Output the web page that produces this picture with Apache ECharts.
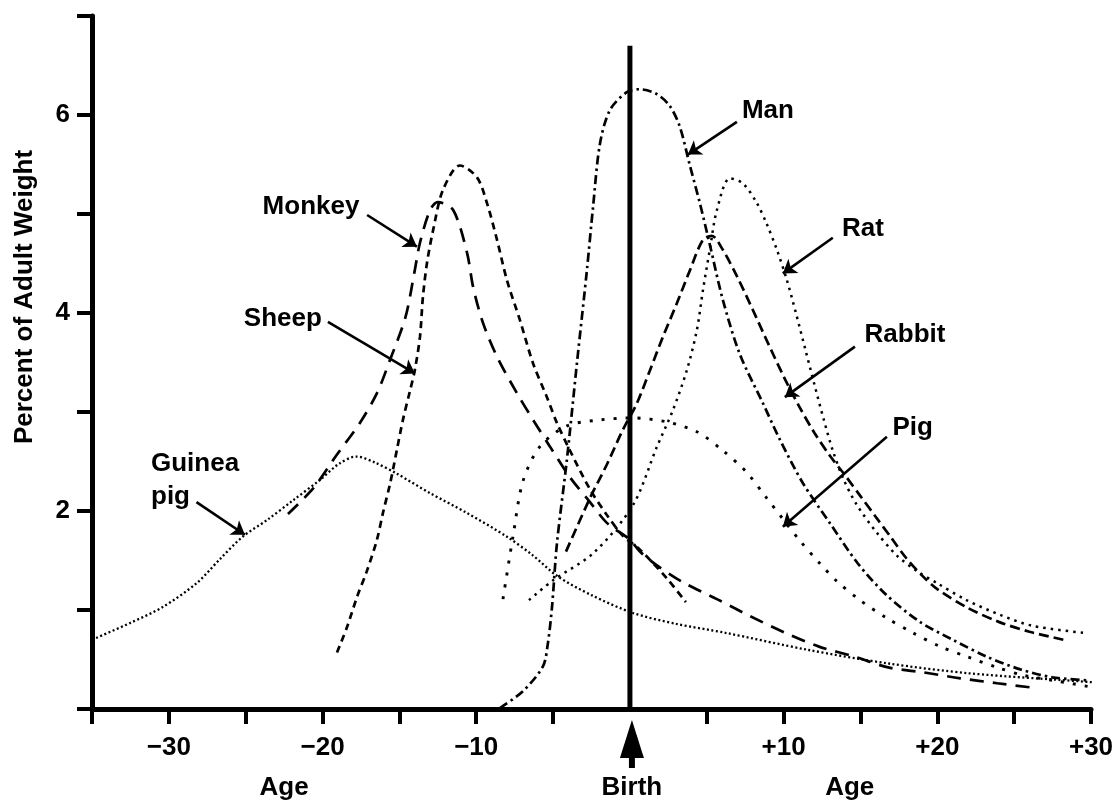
<!DOCTYPE html>
<html>
<head>
<meta charset="utf-8">
<script src="https://cdn.jsdelivr.net/npm/echarts@6/dist/echarts.min.js"></script>
<style>
  html, body { margin: 0; padding: 0; background: #fff; }
  #chart { width: 1120px; height: 803px; }
</style>
</head>
<body>
<div id="chart"></div>
<script>
// Brain growth spurts: first-order velocity of brain weight gain,
// as percent of adult weight, against age around birth.

const FONT = '"Liberation Sans", Arial, Helvetica, sans-serif';

// Axis ticks and labels
const xTicks = [-35, -30, -25, -20, -15, -10, -5, 5, 10, 15, 20, 25, 30];
const xTickLabels = [-30, -20, -10, 10, 20, 30];
const yTickLabels = [2, 4, 6];
const birthLine = [[0, 0], [0, 6.7]];
const ageLabelAt = [-22.5, 14.3];

// Species curves: [age, percent of adult weight]
const guineaPig = [[-35, 0.70], [-32.5, 0.87], [-30.4, 1.03], [-28.2, 1.27], [-26.7, 1.51], [-25.2, 1.74],
  [-23.6, 1.91], [-21.9, 2.11], [-20.2, 2.31], [-18.9, 2.48], [-17.8, 2.55], [-16.6, 2.49], [-15.2, 2.38],
  [-13.0, 2.18], [-10.6, 1.98], [-8.0, 1.74], [-6.3, 1.55], [-4.7, 1.34], [-2.5, 1.15], [0.2, 0.97],
  [3.0, 0.86], [6.2, 0.77], [11.5, 0.60], [16.8, 0.46], [22.1, 0.36], [30.1, 0.27], [31.3, 0.25]];

const monkey = [[-22.25, 1.97], [-20.6, 2.23], [-19.06, 2.57], [-17.57, 2.89], [-16.46, 3.19], [-15.6, 3.53],
  [-14.6, 3.96], [-14.0, 4.43], [-13.66, 4.71], [-13.0, 5.04], [-12.5, 5.12], [-11.5, 5.04], [-10.6, 4.61],
  [-10.2, 4.26], [-9.56, 3.90], [-8.65, 3.56], [-7.35, 3.19], [-6.3, 2.92], [-5.2, 2.65], [-3.9, 2.34],
  [-2.6, 2.09], [-1.5, 1.88], [0, 1.71], [0.65, 1.59], [1.76, 1.45], [3.45, 1.28], [5.66, 1.11], [7.8, 0.94],
  [10.1, 0.77], [12.3, 0.63], [14.6, 0.53], [16.8, 0.42], [19.1, 0.37], [21.5, 0.31], [23.9, 0.26], [26.5, 0.21]];

const sheep = [[-19.06, 0.57], [-18.4, 0.83], [-17.76, 1.13], [-17.1, 1.40], [-16.46, 1.71], [-16.07, 1.98],
  [-15.6, 2.28], [-15.16, 2.62], [-14.77, 2.92], [-14.3, 3.22], [-14.0, 3.42], [-13.66, 3.76], [-13.47, 4.16],
  [-13.2, 4.51], [-12.8, 4.84], [-12.17, 5.24], [-11.06, 5.49], [-9.95, 5.37], [-9.3, 5.11], [-8.65, 4.74],
  [-8.0, 4.33], [-7.16, 3.93], [-6.3, 3.49], [-5.4, 3.15], [-4.75, 2.89], [-3.9, 2.61], [-2.6, 2.22],
  [-1.5, 1.96], [-0.46, 1.75], [0.65, 1.61], [2.4, 1.32], [3.64, 1.08]];

const man = [[-8.46, 0.01], [-6.96, 0.18], [-5.66, 0.43], [-5.35, 0.65], [-5.07, 1.03], [-4.75, 1.67],
  [-4.1, 2.52], [-3.45, 3.49], [-2.8, 4.43], [-2.4, 5.07], [-1.95, 5.71], [-1.3, 6.05], [-0.2, 6.23],
  [0.65, 6.26], [1.76, 6.21], [2.6, 6.09], [3.25, 5.88], [3.9, 5.49], [4.55, 5.11], [5.2, 4.69], [6.05, 4.13],
  [7.16, 3.58], [8.65, 3.09], [9.76, 2.72], [11.26, 2.28], [13.0, 1.88], [14.83, 1.47], [16.7, 1.15],
  [18.87, 0.88], [21.0, 0.70], [23.2, 0.53], [25.4, 0.40], [27.5, 0.32], [29.7, 0.29]];

const rabbit = [[-4.16, 1.59], [-2.6, 2.13], [-1.5, 2.47], [-0.46, 2.82], [0.46, 3.09], [1.3, 3.42],
  [2.15, 3.76], [3.06, 4.10], [3.9, 4.43], [4.75, 4.74], [5.33, 4.78], [6.0, 4.65], [7.0, 4.36], [8.0, 4.03],
  [9.0, 3.69], [10.0, 3.36], [11.0, 3.06], [12.0, 2.79], [13.0, 2.56], [14.0, 2.36], [15.0, 2.15],
  [16.0, 1.94], [17.0, 1.73], [18.0, 1.52], [19.0, 1.35], [20.0, 1.21], [22.0, 1.02], [24.0, 0.88],
  [26.0, 0.78], [28.2, 0.70]];

const rat = [[-6.57, 1.10], [-5.0, 1.30], [-2.34, 1.58], [0.2, 2.06], [1.76, 2.65], [2.8, 3.02], [3.7, 3.42],
  [4.36, 3.83], [4.75, 4.23], [5.2, 4.64], [5.66, 5.04], [6.5, 5.36], [7.35, 5.31], [8.26, 5.11], [8.9, 4.90],
  [9.56, 4.64], [10.2, 4.34], [10.8, 4.00], [11.4, 3.64], [12.0, 3.28], [12.6, 2.93], [13.2, 2.61],
  [13.9, 2.32], [14.77, 2.06], [16.07, 1.78], [17.37, 1.55], [18.7, 1.39], [20.0, 1.27], [21.9, 1.10],
  [24.1, 0.95], [26.2, 0.84], [29.5, 0.77]];

const pig = [[-8.26, 1.11], [-7.6, 1.75], [-6.96, 2.30], [-5.86, 2.65], [-4.1, 2.86], [-1.95, 2.92],
  [0.2, 2.94], [2.4, 2.90], [4.36, 2.80], [6.05, 2.61], [7.6, 2.39], [8.9, 2.13], [9.95, 1.92], [11.06, 1.70],
  [12.36, 1.47], [13.47, 1.29], [14.96, 1.10], [16.7, 0.92], [18.4, 0.77], [20.2, 0.63], [21.9, 0.53],
  [23.9, 0.42], [25.6, 0.34], [27.5, 0.29], [30.1, 0.22]];

// Callouts: label anchor and arrow (tail -> head), in axis units
const callouts = [
  { text: 'Man',          at: [8.98, 6.04],   align: 'center', tail: [6.96, 5.93],   head: [3.77, 5.60] },
  { text: 'Monkey',       at: [-20.75, 5.07], align: 'center', tail: [-17.1, 4.99],  head: [-13.86, 4.67] },
  { text: 'Sheep',        at: [-22.58, 3.94], align: 'center', tail: [-19.65, 3.91], head: [-13.99, 3.39] },
  { text: 'Guinea\npig',  at: [-31.16, 2.31], align: 'left',   tail: [-28.2, 2.09],  head: [-25.05, 1.76] },
  { text: 'Rat',          at: [15.16, 4.85],  align: 'center', tail: [13.2, 4.76],   head: [9.95, 4.40] },
  { text: 'Rabbit',       at: [17.9, 3.78],   align: 'center', tail: [14.64, 3.66],  head: [10.08, 3.15] },
  { text: 'Pig',          at: [18.4, 2.84],   align: 'center', tail: [16.72, 2.75],  head: [9.95, 1.84] }
];

function curve(name, data, dash, width) {
  return {
    name, type: 'line', data, smooth: 0.3, symbol: 'none', clip: false, silent: true,
    lineStyle: { color: '#000', width, type: dash, cap: 'butt' }
  };
}

const series = [
  curve('Guinea pig', guineaPig, [2, 2.5], 2.3),
  curve('Monkey', monkey, [14, 9], 2.7),
  curve('Sheep', sheep, [7, 5], 2.7),
  curve('Man', man, [9, 4, 2.5, 4], 2.7),
  curve('Rabbit', rabbit, [10, 5], 2.7),
  curve('Rat', rat, [2.5, 5], 2.5),
  curve('Pig', pig, [3, 9], 2.9),
  {
    name: 'Birth', type: 'line', data: birthLine, symbol: 'none', silent: true,
    lineStyle: { color: '#000', width: 5, type: 'solid' }
  },
  {
    name: 'callouts', type: 'line', data: [], symbol: 'none', silent: true,
    markLine: {
      silent: true, symbol: ['none', 'arrow'], symbolSize: 13,
      label: { show: false },
      lineStyle: { color: '#000', width: 2.6, type: 'solid' },
      data: callouts.map(c => [{ coord: c.tail }, { coord: c.head }])
    }
  }
];

const chart = echarts.init(document.getElementById('chart'), null, { renderer: 'canvas' });

chart.setOption({
  animation: false,
  backgroundColor: '#fff',
  grid: { left: 92, right: 29, top: 16, bottom: 94, outerBoundsMode: 'none' },
  xAxis: {
    type: 'value', min: -35, max: 30, interval: 5,
    axisLine: { onZero: false, lineStyle: { color: '#000', width: 5 } },
    axisTick: { customValues: xTicks, length: 15, lineStyle: { color: '#000', width: 4 } },
    axisLabel: {
      customValues: xTickLabels, margin: 26,
      color: '#000', fontFamily: FONT, fontWeight: 'bold', fontSize: 26,
      formatter: v => (v < 0 ? '\u2212' + Math.abs(v) : '+' + v)
    },
    splitLine: { show: false }
  },
  yAxis: {
    type: 'value', min: 0, max: 7, interval: 1,
    axisLine: { show: true, onZero: false, lineStyle: { color: '#000', width: 5 } },
    axisTick: { show: true, length: 15, lineStyle: { color: '#000', width: 4 } },
    axisLabel: {
      customValues: yTickLabels, margin: 22,
      color: '#000', fontFamily: FONT, fontWeight: 'bold', fontSize: 26
    },
    splitLine: { show: false }
  },
  series
});

// Text and birth marker placed from axis coordinates
const px = (x, y) => chart.convertToPixel({ gridIndex: 0 }, [x, y]);
const textStyle = { fill: '#000', font: 'bold 26px ' + FONT };
const graphic = [];

callouts.forEach(c => {
  const p = px(c.at[0], c.at[1]);
  graphic.push({
    type: 'text', x: p[0], y: p[1], silent: true,
    style: Object.assign({ text: c.text, textAlign: c.align, textVerticalAlign: 'middle', lineHeight: 33 }, textStyle)
  });
});

const origin = px(0, 0);
const axisY = origin[1];
const bx = origin[0] + 2;
graphic.push({
  type: 'polygon', silent: true,
  shape: { points: [[bx, axisY + 11], [bx - 12, axisY + 49], [bx + 12, axisY + 49]] },
  style: { fill: '#000' }
});
graphic.push({
  type: 'rect', silent: true,
  shape: { x: bx - 3, y: axisY + 45, width: 6, height: 14 },
  style: { fill: '#000' }
});
graphic.push({
  type: 'text', x: bx, y: axisY + 79, silent: true,
  style: Object.assign({ text: 'Birth', textAlign: 'center', textVerticalAlign: 'middle' }, textStyle)
});
ageLabelAt.forEach(a => {
  const p = px(a, 0);
  graphic.push({
    type: 'text', x: p[0], y: axisY + 79, silent: true,
    style: Object.assign({ text: 'Age', textAlign: 'center', textVerticalAlign: 'middle' }, textStyle)
  });
});
graphic.push({
  type: 'text', x: 25, y: 297, rotation: Math.PI / 2, silent: true,
  style: Object.assign({ text: 'Percent of Adult Weight', textAlign: 'center', textVerticalAlign: 'middle' }, textStyle)
});

chart.setOption({ graphic });
</script>
</body>
</html>
